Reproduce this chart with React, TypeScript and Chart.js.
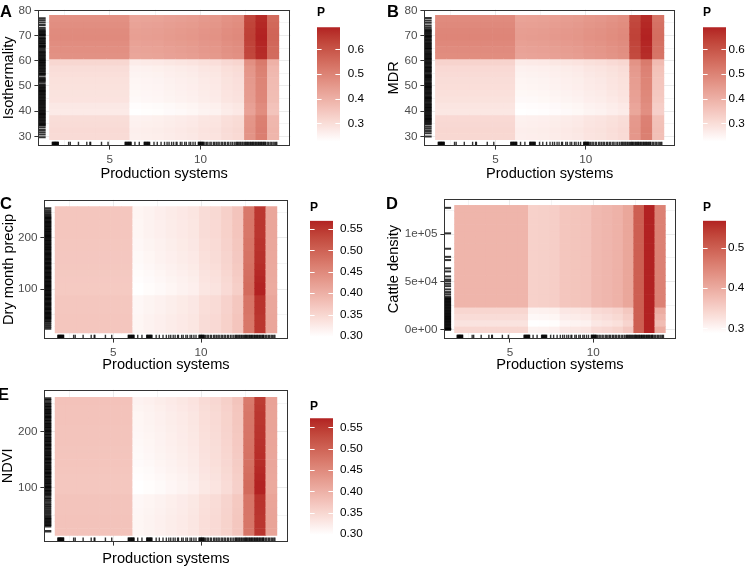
import React, { useEffect, useRef } from 'react';
import { Chart, registerables } from 'chart.js';

Chart.register(...registerables);

const FONT = '"Liberation Sans", Arial, Helvetica, sans-serif';
Chart.defaults.font.family = FONT;

const TICK_SIZE = 11.7;
const TITLE_SIZE = 14.6;
const KEY_TITLE_SIZE = 12;
const TAG_SIZE = 16.5;

// ---------------------------------------------------------------------------
// Production systems (shared x variable)
// ---------------------------------------------------------------------------
const prodGrid = [2.0, 2.632, 3.263, 3.895, 4.526, 5.158, 5.789, 6.421, 7.053, 7.684, 8.316, 8.947, 9.579, 10.211, 10.842, 11.474, 12.105, 12.737, 13.368, 14.0];
const prodRange = [1.052, 14.948];
const prodBreaks = [5, 10];
const prodMinorBreaks = [2.5, 7.5, 12.5];
const prodBreakLabels = ['5', '10'];
const prodRug = [
  1.84, 1.87, 1.9, 1.93, 1.96, 1.98, 2.01, 2.03, 2.06, 2.09, 2.12, 2.15, 2.17,
  2.74, 2.83, 3.28, 3.74, 3.91, 3.95, 4.55, 4.91,
  5.85, 5.88, 5.92, 5.95, 5.99, 6.02, 6.05, 6.09, 6.12, 6.15, 6.18,
  6.39, 6.63,
  6.9, 6.93, 6.96, 7.0, 7.03, 7.07, 7.1, 7.13, 7.17, 7.2,
  7.44, 7.62, 7.83, 8.02, 8.16, 8.27, 8.41, 8.52, 8.66, 8.71, 8.89, 8.98, 9.13, 9.22, 9.37, 9.46, 9.59, 9.71,
  9.88, 9.91, 9.94, 9.98, 10.01, 10.04, 10.08, 10.11, 10.14, 10.18,
  10.25, 10.34, 10.41, 10.52, 10.59, 10.71, 10.78, 10.87,
  10.96, 11.03, 11.14, 11.21, 11.31, 11.38, 11.49, 11.56, 11.67, 11.76, 11.86,
  11.95, 12.0, 12.05, 12.11, 12.17, 12.22, 12.29, 12.34, 12.41, 12.47,
  12.52, 12.57, 12.61, 12.66, 12.72, 12.76, 12.81, 12.87, 12.9, 12.95, 13.01, 13.05, 13.1, 13.16, 13.2,
  13.25, 13.31, 13.35, 13.4, 13.46, 13.5, 13.55, 13.58,
  13.67, 13.74, 13.83, 13.9, 13.99, 14.06, 14.14, 14.2,
];

// ---------------------------------------------------------------------------
// A: Isothermality
// ---------------------------------------------------------------------------
const isoGrid = [29.93, 32.395, 34.86, 37.325, 39.79, 42.255, 44.72, 47.185, 49.65, 52.115, 54.58, 57.045, 59.51, 61.975, 64.44, 66.905, 69.37, 71.835, 74.3, 76.765];
const isoRange = [26.19, 80.27];
const isoBreaks = [30, 40, 50, 60, 70, 80];
const isoMinorBreaks = [35, 45, 55, 65, 75];
const isoBreakLabels = ['30', '40', '50', '60', '70', '80'];
const isoProdEffect = [0.272, 0.272, 0.272, 0.272, 0.272, 0.272, 0.272, 0.226, 0.229, 0.231, 0.236, 0.24, 0.244, 0.252, 0.255, 0.268, 0.275, 0.43, 0.478, 0.355];
const isoValueEffect = [0.032, 0.034, 0.03, 0.028, 0.0, 0.004, 0.014, 0.016, 0.018, 0.02, 0.024, 0.028, 0.042, 0.196, 0.2, 0.205, 0.211, 0.209, 0.203, 0.198];
const isoRug = [
  76.9, 76.1, 75.2, 74.2, 73.1,
  72.4, 71.9, 71.5, 71.1, 70.6, 70.2, 69.9, 69.2, 68.8, 68.5, 67.9, 67.6, 67.1, 66.8, 66.2, 65.9, 65.5, 65.0, 64.4,
  63.8, 63.4, 63.0, 62.5, 62.1, 61.7, 61.2, 60.8, 60.3, 60.0, 59.5, 59.1, 58.6, 58.2, 57.8, 57.3, 56.9, 56.5,
  56.0, 55.6, 55.1, 54.8, 54.3, 53.4, 52.9, 52.5, 52.0, 51.4, 50.6, 50.2, 49.7, 49.3, 48.9, 48.4, 48.0, 47.6,
  47.1, 46.7, 46.3, 45.8, 45.4, 45.0, 44.5, 44.1, 43.7, 43.2, 42.8, 42.4, 41.9, 41.5, 41.1, 40.6, 40.2, 39.8,
  39.3, 38.9, 38.5, 38.0, 37.6, 37.2, 36.7, 36.3, 35.9, 35.4, 35.0, 34.6, 34.3,
  33.5, 32.5, 31.6, 30.8, 29.7,
];
const isoKeyBreaks = [0.3, 0.4, 0.5, 0.6];
const isoKeyLabels = ['0.3', '0.4', '0.5', '0.6'];

// ---------------------------------------------------------------------------
// B: MDR
// ---------------------------------------------------------------------------
const mdrGrid = [29.93, 32.395, 34.86, 37.325, 39.79, 42.255, 44.72, 47.185, 49.65, 52.115, 54.58, 57.045, 59.51, 61.975, 64.44, 66.905, 69.37, 71.835, 74.3, 76.765];
const mdrRange = [26.19, 80.27];
const mdrBreaks = [30, 40, 50, 60, 70, 80];
const mdrMinorBreaks = [35, 45, 55, 65, 75];
const mdrBreakLabels = ['30', '40', '50', '60', '70', '80'];
const mdrProdEffect = [0.278, 0.278, 0.278, 0.278, 0.278, 0.278, 0.278, 0.226, 0.228, 0.23, 0.234, 0.238, 0.242, 0.25, 0.254, 0.262, 0.27, 0.42, 0.473, 0.33];
const mdrValueEffect = [0.034, 0.036, 0.032, 0.03, 0.0, 0.004, 0.012, 0.016, 0.02, 0.022, 0.026, 0.03, 0.044, 0.2, 0.204, 0.21, 0.216, 0.214, 0.208, 0.203];
const mdrRug = [
  77.0, 76.0, 75.1, 74.0, 73.2,
  72.5, 72.0, 71.7, 71.2, 70.8, 70.3, 69.8, 69.5, 69.0, 68.4, 68.1, 67.6, 67.2, 66.8, 66.4, 65.9, 65.4, 65.0,
  64.7, 64.1, 63.7, 63.2, 62.8, 62.4, 62.0, 61.5, 61.0, 60.7, 60.2, 59.7, 59.3, 58.9, 58.5, 58.0, 57.5, 57.1,
  56.6, 56.2, 55.8, 55.4, 54.9, 54.4, 54.0, 53.6, 53.2, 52.7, 52.3, 51.8, 51.3, 50.9, 50.5, 50.0, 49.6, 49.2,
  48.7, 48.3, 47.8, 47.4, 47.0, 46.6, 46.1, 45.6, 45.2, 44.8, 44.3, 43.9, 43.4, 43.0, 42.6, 42.2, 41.7, 41.3,
  40.8, 40.4, 40.0, 39.5, 39.1, 38.6, 38.2, 37.8, 37.3, 36.9, 36.5, 36.0, 35.6, 35.1, 34.7,
  33.8, 33.0, 32.1, 31.2, 30.0,
];
const mdrKeyBreaks = [0.3, 0.4, 0.5, 0.6];
const mdrKeyLabels = ['0.3', '0.4', '0.5', '0.6'];

// ---------------------------------------------------------------------------
// C: Dry month precip
// ---------------------------------------------------------------------------
const precipGrid = [20.8, 33.12, 45.44, 57.76, 70.08, 82.4, 94.72, 107.04, 119.36, 131.68, 144.0, 156.32, 168.64, 180.96, 193.28, 205.6, 217.92, 230.24, 242.56, 254.88];
const precipRange = [2.7, 274.0];
const precipBreaks = [100, 200];
const precipMinorBreaks = [50, 150, 250];
const precipBreakLabels = ['100', '200'];
const precipProdEffect = [0.366, 0.366, 0.366, 0.366, 0.366, 0.366, 0.366, 0.298, 0.302, 0.306, 0.31, 0.314, 0.318, 0.33, 0.334, 0.345, 0.36, 0.488, 0.569, 0.406];
const precipValueEffect = [0.012, 0.012, 0.012, 0.01, 0.01, 0.01, 0.0, 0.0, 0.002, 0.004, 0.006, 0.008, 0.008, 0.01, 0.01, 0.012, 0.012, 0.012, 0.013, 0.013];
const precipValueWeight = [0.4, 0.4, 0.4, 0.4, 0.4, 0.4, 0.4, 1, 1, 1, 1, 1, 1, 1, 1, 1, 1, -1.2, -1.5, 0.5];
const precipRug = [
  257, 252, 248, 244,
  241, 238.5, 236, 233, 231, 228.4, 226, 223.5, 221, 218.2, 216, 213.5, 211, 208.3, 206, 203.4, 201, 198.6,
  196, 193.2, 191, 188.5, 186, 183.1, 181, 178.4, 176, 173.5, 171, 168.2, 166, 163.6, 161, 158.3, 156, 153.4,
  151, 148.5, 146, 143.2, 141, 138.6, 136, 133.4, 131, 128.5, 126, 123.3, 121, 118.6, 116, 113.2, 111, 108.5,
  106, 103.4, 101, 98.6, 96, 93.3, 91, 88.5, 86, 83.2, 81, 78.6, 76, 73.4, 71, 68.5, 66, 63.2, 61, 58.6, 56,
  53.3, 51, 48.5, 46, 43.4, 41, 38.5,
  35, 31, 27, 23,
];
const precipKeyBreaks = [0.3, 0.35, 0.4, 0.45, 0.5, 0.55];
const precipKeyLabels = ['0.30', '0.35', '0.40', '0.45', '0.50', '0.55'];

// ---------------------------------------------------------------------------
// D: Cattle density
// ---------------------------------------------------------------------------
const cattleGrid = [0, 6667, 13333, 20000, 26667, 33333, 40000, 46667, 53333, 60000, 66667, 73333, 80000, 86667, 93333, 100000, 106667, 113333, 120000, 126667];
const cattleRange = [-9940, 136580];
const cattleBreaks = [0, 50000, 100000];
const cattleMinorBreaks = [25000, 75000, 125000];
const cattleBreakLabels = ['0e+00', '5e+04', '1e+05'];
const cattleProdEffect = [0.386, 0.386, 0.386, 0.386, 0.386, 0.386, 0.386, 0.349, 0.35, 0.352, 0.363, 0.365, 0.367, 0.38, 0.384, 0.39, 0.405, 0.5, 0.567, 0.455];
const cattleValueEffect = [-0.045, -0.061, -0.052, -0.044, 0, 0, 0, 0, 0, 0, 0, 0, 0, 0, 0, 0, 0, 0, 0, 0];
const cattleValueWeight = [1, 1, 1, 1, 1, 1, 1, 1, 1, 1, 1, 1, 1, 1, 1, 1, 1, 0, 0, 1.3];
const cattleRug = [
  127400, 100700, 84600, 76100, 72700, 64100, 60800, 55600, 52300, 50500, 47900, 45400, 42000, 39200, 36900, 34500,
  33000, 32000, 31100, 30000, 29000, 28100, 27000, 26000, 25100, 24000, 23000, 22100, 21000, 20000, 19100, 18000,
  17000, 16100, 15000, 14000, 13100, 12000, 11000, 10100, 9000, 8000, 7100, 6000, 5000, 4100, 3000, 2000, 1100,
  500, 0, 0, 200, 800,
];
const cattleKeyBreaks = [0.3, 0.4, 0.5];
const cattleKeyLabels = ['0.3', '0.4', '0.5'];

// ---------------------------------------------------------------------------
// E: NDVI
// ---------------------------------------------------------------------------
const ndviGrid = [20.8, 33.12, 45.44, 57.76, 70.08, 82.4, 94.72, 107.04, 119.36, 131.68, 144.0, 156.32, 168.64, 180.96, 193.28, 205.6, 217.92, 230.24, 242.56, 254.88];
const ndviRange = [2.8, 274.6];
const ndviBreaks = [100, 200];
const ndviMinorBreaks = [50, 150, 250];
const ndviBreakLabels = ['100', '200'];
const ndviProdEffect = [0.37, 0.37, 0.37, 0.37, 0.37, 0.37, 0.37, 0.298, 0.301, 0.305, 0.309, 0.313, 0.318, 0.328, 0.333, 0.343, 0.358, 0.49, 0.571, 0.41];
const ndviValueEffect = [0.012, 0.012, 0.012, 0.011, 0.01, 0.01, 0.0, 0.0, 0.002, 0.004, 0.006, 0.007, 0.008, 0.009, 0.01, 0.011, 0.012, 0.012, 0.014, 0.016];
const ndviValueWeight = [0.4, 0.4, 0.4, 0.4, 0.4, 0.4, 0.4, 1, 1, 1, 1, 1, 1, 1, 1, 1, 1, -1.2, -1.5, 0.5];
const ndviRug = [
  259, 256, 252, 249,
  246, 243.4, 241, 238.2, 236, 233.5, 231, 228.3, 226, 223.6, 221, 218.4, 216, 213.2, 211, 208.5, 206, 203.3,
  201, 198.6, 196, 193.4, 191, 188.2, 186, 183.5, 181, 178.3, 176, 173.6, 171, 168.4, 166, 163.2, 161, 158.5,
  156, 153.3, 151, 148.6, 146, 143.4, 141, 138.2, 136, 133.5, 131, 128.3, 126, 123.6, 121, 118.4, 116, 113.2,
  111, 108.5, 106, 103.3, 101, 98.6, 96, 93.4, 91, 88.2, 86,
  82, 78.5, 75, 71, 67.5, 64, 60, 56.5, 53, 49, 46,
  43.5, 41, 38.5, 36, 33.5, 31,
  22,
];
const ndviKeyBreaks = [0.3, 0.35, 0.4, 0.45, 0.5, 0.55];
const ndviKeyLabels = ['0.30', '0.35', '0.40', '0.45', '0.50', '0.55'];

// ---------------------------------------------------------------------------
// Panel layout (page pixels)
// ---------------------------------------------------------------------------
const PANELS = [
  {
    tag: 'A', yTitle: 'Isothermality', ys: isoGrid, yRange: isoRange, yBreaks: isoBreaks, yMinor: isoMinorBreaks,
    yLabels: isoBreakLabels, prodEffect: isoProdEffect, valueEffect: isoValueEffect, weight: null, yRug: isoRug, yRugWidth: 2,
    xLabels: prodBreakLabels, keyBreaks: isoKeyBreaks, keyLabels: isoKeyLabels,
    box: { x: 0, y: 0, w: 300, h: 190 }, area: { l: 38, t: 4, r: 294, b: 146 }, yTitleX: 9, xTitleY: 174,
    key: { x: 315, y: 0, w: 60, h: 170, l: 317, r: 340, v1: 0.3, p1: 123.3, v2: 0.6, p2: 49.3, labelX: 347.7, titleTop: 8.3 },
    tagPos: { x: 0, y: 5 },
  },
  {
    tag: 'B', yTitle: 'MDR', ys: mdrGrid, yRange: mdrRange, yBreaks: mdrBreaks, yMinor: mdrMinorBreaks,
    yLabels: mdrBreakLabels, prodEffect: mdrProdEffect, valueEffect: mdrValueEffect, weight: null, yRug: mdrRug, yRugWidth: 2,
    xLabels: prodBreakLabels, keyBreaks: mdrKeyBreaks, keyLabels: mdrKeyLabels,
    box: { x: 375, y: 0, w: 310, h: 190 }, area: { l: 424, t: 4, r: 680, b: 146 }, yTitleX: 394, xTitleY: 174,
    key: { x: 701, y: 0, w: 49, h: 170, l: 703, r: 726, v1: 0.3, p1: 123.3, v2: 0.6, p2: 49.3, labelX: 728.5, titleTop: 8.3 },
    tagPos: { x: 387, y: 5 },
  },
  {
    tag: 'C', yTitle: 'Dry month precip', ys: precipGrid, yRange: precipRange, yBreaks: precipBreaks, yMinor: precipMinorBreaks,
    yLabels: precipBreakLabels, prodEffect: precipProdEffect, valueEffect: precipValueEffect, weight: precipValueWeight, yRug: precipRug, yRugWidth: 2.5,
    xLabels: prodBreakLabels, keyBreaks: precipKeyBreaks, keyLabels: precipKeyLabels,
    box: { x: 0, y: 190, w: 300, h: 190 }, area: { l: 44, t: 196, r: 288, b: 339 }, yTitleX: 8.5, xTitleY: 364.5,
    key: { x: 308, y: 190, w: 67, h: 170, l: 310, r: 333, v1: 0.3, p1: 336, v2: 0.55, p2: 229, labelX: 340, titleTop: 203.3 },
    tagPos: { x: 0, y: 196.7 },
  },
  {
    tag: 'D', yTitle: 'Cattle density', ys: cattleGrid, yRange: cattleRange, yBreaks: cattleBreaks, yMinor: cattleMinorBreaks,
    yLabels: cattleBreakLabels, prodEffect: cattleProdEffect, valueEffect: cattleValueEffect, weight: cattleValueWeight, yRug: cattleRug, yRugWidth: 2,
    xLabels: prodBreakLabels, keyBreaks: cattleKeyBreaks, keyLabels: cattleKeyLabels,
    box: { x: 375, y: 190, w: 310, h: 190 }, area: { l: 444, t: 196, r: 680, b: 339 }, yTitleX: 394, xTitleY: 365,
    key: { x: 701, y: 190, w: 49, h: 170, l: 703, r: 726, v1: 0.3, p1: 328.3, v2: 0.5, p2: 247.7, labelX: 728, titleTop: 203.3 },
    tagPos: { x: 386, y: 196.7 },
  },
  {
    tag: 'E', yTitle: 'NDVI', ys: ndviGrid, yRange: ndviRange, yBreaks: ndviBreaks, yMinor: ndviMinorBreaks,
    yLabels: ndviBreakLabels, prodEffect: ndviProdEffect, valueEffect: ndviValueEffect, weight: ndviValueWeight, yRug: ndviRug, yRugWidth: 2.5,
    xLabels: ['', ''], keyBreaks: ndviKeyBreaks, keyLabels: ndviKeyLabels,
    box: { x: 0, y: 380, w: 300, h: 188 }, area: { l: 44, t: 389, r: 288, b: 542 }, yTitleX: 8, xTitleY: 559,
    key: { x: 308, y: 380, w: 67, h: 170, l: 310, r: 333, v1: 0.3, p1: 534, v2: 0.55, p2: 427.3, labelX: 340, titleTop: 401.7 },
    tagPos: { x: -2, y: 388.3 },
  },
];

// ---------------------------------------------------------------------------
// Fill scale: white -> firebrick, interpolated in CIE Lab
// ---------------------------------------------------------------------------
const LOW_RGB = [255, 255, 255];
const HIGH_RGB = [178, 34, 34];
const WX = 0.95047;
const WZ = 1.08883;
const toLin = (c: number) => { const s = c / 255; return s <= 0.04045 ? s / 12.92 : Math.pow((s + 0.055) / 1.055, 2.4); };
const fromLin = (v: number) => { const s = v <= 0.0031308 ? 12.92 * v : 1.055 * Math.pow(v, 1 / 2.4) - 0.055; return Math.round(Math.min(1, Math.max(0, s)) * 255); };
function rgbToLab(rgb: number[]) {
  const [r, g, b] = rgb.map(toLin);
  const x = (0.4124 * r + 0.3576 * g + 0.1805 * b) / WX;
  const y = 0.2126 * r + 0.7152 * g + 0.0722 * b;
  const z = (0.0193 * r + 0.1192 * g + 0.9505 * b) / WZ;
  const f = (t: number) => (t > 216 / 24389 ? Math.cbrt(t) : ((24389 / 27) * t + 16) / 116);
  const fx = f(x), fy = f(y), fz = f(z);
  return [116 * fy - 16, 500 * (fx - fy), 200 * (fy - fz)];
}
function labToRgb(lab: number[]) {
  const [L, a, b] = lab;
  const fy = (L + 16) / 116, fx = fy + a / 500, fz = fy - b / 200;
  const inv = (t: number) => (t * t * t > 216 / 24389 ? t * t * t : (116 * t - 16) / (24389 / 27));
  const x = inv(fx) * WX, y = inv(fy), z = inv(fz) * WZ;
  const r = 3.2406 * x - 1.5372 * y - 0.4986 * z;
  const g = -0.9689 * x + 1.8758 * y + 0.0415 * z;
  const bl = 0.0557 * x - 0.204 * y + 1.057 * z;
  return [fromLin(r), fromLin(g), fromLin(bl)];
}
const LOW_LAB = rgbToLab(LOW_RGB);
const HIGH_LAB = rgbToLab(HIGH_RGB);
function fillColor(t: number) {
  const k = Math.min(1, Math.max(0, t));
  const c = labToRgb(LOW_LAB.map((v, i) => v + (HIGH_LAB[i] - v) * k));
  return `rgb(${c[0]},${c[1]},${c[2]})`;
}

// Partial dependence surface: value over (production system, variable)
function surface(p: any) {
  const vals = p.prodEffect.map((c: number, i: number) =>
    p.valueEffect.map((r: number) => c + (p.weight ? p.weight[i] : 1) * r));
  let min = Infinity, max = -Infinity;
  vals.forEach((col: number[]) => col.forEach((v) => { min = Math.min(min, v); max = Math.max(max, v); }));
  return { vals, min, max };
}

function edgesOf(g: number[]) {
  const n = g.length;
  const e = [g[0] - (g[1] - g[0]) / 2];
  for (let k = 1; k < n; k++) e.push((g[k - 1] + g[k]) / 2);
  e.push(g[n - 1] + (g[n - 1] - g[n - 2]) / 2);
  return e;
}

const RUG_COLOR = 'rgba(0,0,0,0.8)';
const X_RUG_WIDTH = 1.4;

const framePlugin = {
  id: 'panelFrame',
  afterDatasetsDraw(chart: any) {
    const { ctx, chartArea: a } = chart;
    ctx.save();
    ctx.strokeStyle = '#333333';
    ctx.lineWidth = 1;
    ctx.strokeRect(Math.round(a.left) + 0.5, Math.round(a.top) + 0.5, Math.round(a.right - a.left) - 1, Math.round(a.bottom - a.top) - 1);
    ctx.restore();
  },
};

const keyTickPlugin = {
  id: 'keyTicks',
  afterDatasetsDraw(chart: any) {
    const { ctx, chartArea: a } = chart;
    const s = chart.scales.y;
    const w = (a.right - a.left) / 5;
    ctx.save();
    ctx.strokeStyle = '#ffffff';
    ctx.lineWidth = 1;
    s.ticks.forEach((t: any) => {
      const y = Math.round(s.getPixelForValue(t.value)) + 0.5;
      ctx.beginPath();
      ctx.moveTo(a.left, y); ctx.lineTo(a.left + w, y);
      ctx.moveTo(a.right - w, y); ctx.lineTo(a.right, y);
      ctx.stroke();
    });
    ctx.restore();
  },
};

function axisGrid(majors: number[]) {
  return {
    display: true,
    drawOnChartArea: true,
    drawTicks: true,
    offset: false,
    tickLength: 3.6,
    tickWidth: 1,
    lineWidth: 1,
    color: (c: any) => (c.tick && majors.includes(c.tick.value) ? '#EBEBEB' : '#F4F4F4'),
    tickColor: (c: any) => (c.tick && majors.includes(c.tick.value) ? '#333333' : 'rgba(0,0,0,0)'),
  };
}

function makePanel(canvas: HTMLCanvasElement, p: any, s: any) {
  const yEdges = edgesOf(p.ys);
  const cells: any[] = [];
  const colors: string[] = [];
  prodGrid.forEach((x, i) => {
    p.ys.forEach((_: number, j: number) => {
      cells.push({ x, y: [yEdges[j], yEdges[j + 1]] });
      colors.push(fillColor((s.vals[i][j] - s.min) / (s.max - s.min)));
    });
  });

  const B = p.box, A = p.area;
  const lh = TITLE_SIZE;
  const padL = p.yTitleX - lh / 2 - B.x;
  const padT = A.t - B.y;
  const padR = B.x + B.w - A.r;
  const padB = B.y + B.h - p.xTitleY - lh / 2;
  const yAxisW = A.l - B.x - padL;
  const xAxisH = B.y + B.h - padB - A.b;
  const xRugLen = 0.03 * (A.b - A.t);
  const yRugLen = 0.03 * (A.r - A.l);

  const xTicks = [...prodMinorBreaks, ...prodBreaks].sort((a, b) => a - b);
  const yTicks = [...p.yMinor, ...p.yBreaks].sort((a: number, b: number) => a - b);

  return new Chart(canvas, {
    type: 'scatter',
    data: {
      datasets: [
        {
          type: 'scatter',
          data: p.yRug.map((v: number) => ({ x: prodRange[0], y: v })),
          pointStyle: 'line', pointRadius: yRugLen, pointRotation: 0,
          pointBorderWidth: p.yRugWidth, pointBorderColor: RUG_COLOR, pointBackgroundColor: RUG_COLOR,
          clip: 0, order: 0,
        },
        {
          type: 'scatter',
          data: prodRug.map((v) => ({ x: v, y: p.yRange[0] })),
          pointStyle: 'line', pointRadius: xRugLen, pointRotation: 90,
          pointBorderWidth: X_RUG_WIDTH, pointBorderColor: RUG_COLOR, pointBackgroundColor: RUG_COLOR,
          clip: 0, order: 1,
        },
        {
          type: 'bar',
          data: cells,
          backgroundColor: colors,
          borderWidth: 0,
          barPercentage: 1,
          categoryPercentage: 1,
          order: 2,
        },
      ] as any,
    },
    options: {
      responsive: false,
      animation: false,
      events: [],
      layout: { padding: { left: padL, top: padT, right: padR, bottom: padB } },
      plugins: { legend: { display: false }, tooltip: { enabled: false }, title: { display: false } },
      scales: {
        x: {
          type: 'linear', min: prodRange[0], max: prodRange[1], bounds: 'data', offset: false,
          afterBuildTicks: (sc: any) => { sc.ticks = xTicks.map((v) => ({ value: v })); },
          afterFit: (sc: any) => { sc.height = xAxisH; sc.paddingLeft = 0; sc.paddingRight = 0; sc.paddingTop = 0; sc.paddingBottom = 0; },
          grid: axisGrid(prodBreaks),
          border: { display: false },
          ticks: {
            autoSkip: false, maxRotation: 0, minRotation: 0, padding: 2.8, color: '#4D4D4D',
            font: { family: FONT, size: TICK_SIZE },
            callback: (v: any) => { const k = prodBreaks.indexOf(Number(v)); return k >= 0 ? p.xLabels[k] : ''; },
          },
          title: { display: true, text: 'Production systems', color: '#000000', padding: 0, font: { family: FONT, size: TITLE_SIZE, lineHeight: 1 } },
        },
        y: {
          type: 'linear', min: p.yRange[0], max: p.yRange[1], bounds: 'data', beginAtZero: false, offset: false,
          afterBuildTicks: (sc: any) => { sc.ticks = yTicks.map((v: number) => ({ value: v })); },
          afterFit: (sc: any) => { sc.width = yAxisW; sc.paddingLeft = 0; sc.paddingRight = 0; sc.paddingTop = 0; sc.paddingBottom = 0; },
          grid: axisGrid(p.yBreaks),
          border: { display: false },
          ticks: {
            autoSkip: false, padding: 2.9, color: '#4D4D4D',
            font: { family: FONT, size: TICK_SIZE },
            callback: (v: any) => { const k = p.yBreaks.indexOf(Number(v)); return k >= 0 ? p.yLabels[k] : ''; },
          },
          title: { display: true, text: p.yTitle, color: '#000000', padding: 0, font: { family: FONT, size: TITLE_SIZE, lineHeight: 1 } },
        },
      },
    } as any,
    plugins: [framePlugin],
  });
}

function makeKey(canvas: HTMLCanvasElement, p: any, min: number, max: number) {
  const K = p.key;
  const pxPerUnit = (K.p1 - K.p2) / (K.v2 - K.v1);
  const top = K.p2 - (max - K.v2) * pxPerUnit;
  const bottom = K.p1 + (K.v1 - min) * pxPerUnit;
  const lh = KEY_TITLE_SIZE;
  const titleMid = K.titleTop + 0.406 * KEY_TITLE_SIZE;
  const tPadTop = titleMid - K.y - lh / 2;
  const tPadBottom = top - K.y - tPadTop - lh;

  return new Chart(canvas, {
    type: 'bar',
    data: {
      labels: ['P'],
      datasets: [{
        data: [[min, max]],
        borderWidth: 0,
        barPercentage: 1,
        categoryPercentage: 1,
        backgroundColor: (c: any) => {
          const a = c.chart.chartArea;
          if (!a) return fillColor(0.5);
          const g = c.chart.ctx.createLinearGradient(0, a.bottom, 0, a.top);
          for (let k = 0; k <= 24; k++) g.addColorStop(k / 24, fillColor(k / 24));
          return g;
        },
      }],
    },
    options: {
      responsive: false,
      animation: false,
      events: [],
      layout: { padding: { left: K.l - K.x, top: 0, right: 0, bottom: K.y + K.h - bottom } },
      plugins: {
        legend: { display: false },
        tooltip: { enabled: false },
        title: {
          display: true, text: 'P', align: 'start', color: '#000000',
          font: { family: FONT, size: KEY_TITLE_SIZE, weight: 'bold', lineHeight: 1 },
          padding: { top: tPadTop, bottom: tPadBottom },
        },
      },
      scales: {
        x: { display: false },
        y: {
          position: 'right', min, max, bounds: 'data', beginAtZero: false,
          afterBuildTicks: (sc: any) => { sc.ticks = p.keyBreaks.map((v: number) => ({ value: v })); },
          afterFit: (sc: any) => { sc.width = K.x + K.w - K.r; sc.paddingTop = 0; sc.paddingBottom = 0; },
          grid: { display: false, drawTicks: false },
          border: { display: false },
          ticks: {
            autoSkip: false, padding: K.labelX - K.r, color: '#000000',
            font: { family: FONT, size: TICK_SIZE },
            callback: (v: any) => { const k = p.keyBreaks.indexOf(Number(v)); return k >= 0 ? p.keyLabels[k] : ''; },
          },
        },
      },
    } as any,
    plugins: [keyTickPlugin],
  });
}

function Panel({ spec }: { spec: any }) {
  const plotRef = useRef<HTMLCanvasElement | null>(null);
  const keyRef = useRef<HTMLCanvasElement | null>(null);

  useEffect(() => {
    const s = surface(spec);
    const plot = makePanel(plotRef.current as HTMLCanvasElement, spec, s);
    const key = makeKey(keyRef.current as HTMLCanvasElement, spec, s.min, s.max);
    return () => { plot.destroy(); key.destroy(); };
  }, [spec]);

  const B = spec.box, K = spec.key;
  return (
    <>
      <canvas ref={plotRef} width={B.w} height={B.h}
        style={{ position: 'absolute', left: B.x, top: B.y, width: B.w, height: B.h }} />
      <canvas ref={keyRef} width={K.w} height={K.h}
        style={{ position: 'absolute', left: K.x, top: K.y, width: K.w, height: K.h }} />
      <div style={{
        position: 'absolute', left: spec.tagPos.x, top: spec.tagPos.y - 0.132 * TAG_SIZE,
        fontFamily: FONT, fontWeight: 'bold', fontSize: TAG_SIZE, lineHeight: `${TAG_SIZE}px`, color: '#000',
      }}>{spec.tag}</div>
    </>
  );
}

export default function App() {
  return (
    <div style={{ position: 'absolute', left: 0, top: 0, width: 750, height: 568, background: '#ffffff', overflow: 'hidden' }}>
      {PANELS.map((p) => <Panel key={p.tag} spec={p} />)}
    </div>
  );
}
